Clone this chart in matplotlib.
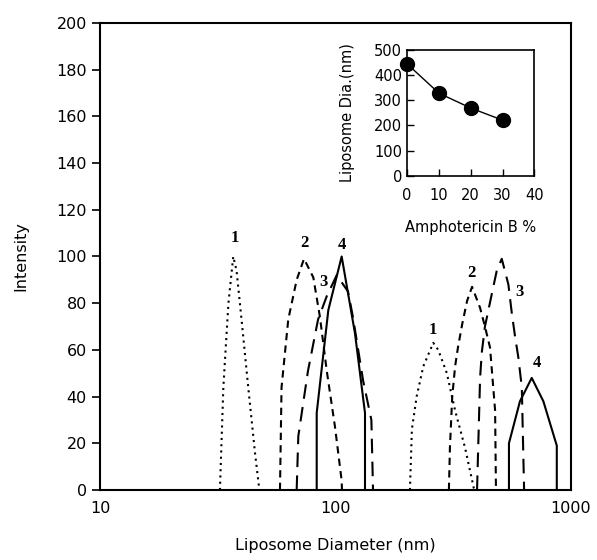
import matplotlib
matplotlib.use("Agg")
import matplotlib.pyplot as plt

plt.rcParams['font.family'] = ['DejaVu Sans']

# curve 1 (dotted) - two peaks
d1a = [32.3, 33.4, 35.1, 36.8, 38.0, 39.9, 42.6, 45.5, 47.5]
i1a = [0, 44, 80, 100, 94, 73, 44, 16, 0]
d1b = [207, 211, 221, 236, 260, 273, 297, 322, 355, 388]
i1b = [0, 26, 40, 53, 63, 60, 50, 34, 18, 0]

# curve 2 (short dash)
d2a = [58.1, 59.0, 63.0, 68.4, 73.5, 80.5, 85.9, 91.8, 99.5, 106.2, 106.5]
i2a = [0, 44, 73, 90, 99, 91, 74, 51, 27, 4, 0]
d2b = [303, 306, 313, 322, 331, 345, 362, 380, 411, 431, 453, 476, 480]
i2b = [0, 18, 40, 53, 61, 71, 81, 87, 78, 70, 61, 34, 0]

# curve 3 (long dash)
d3a = [68.4, 69.5, 76.4, 84.3, 91.8, 101.2, 113, 118.6, 130.9, 142, 144.3]
i3a = [0, 23, 51, 73, 83, 92, 85, 74, 47, 30, 0]
d3b = [399, 411, 418, 431, 461, 484, 508, 542, 560, 578, 597, 618, 632]
i3b = [0, 48, 59, 70, 84, 94, 99, 88, 76, 66, 57, 44, 0]

# curve 4 (solid)
d4a = [83.2, 83.2, 93.2, 106.2, 121, 133.4, 133.4]
i4a = [0, 33, 77, 100, 67, 33, 0]
d4b = [545, 545, 607, 681, 763, 870, 870]
i4b = [0, 20, 38, 48, 38, 19, 0]

# inset data
ampho = [0, 10, 20, 30]
lipo_dia = [444, 328, 269, 221]

fig = plt.figure(figsize=(5.97, 5.6), dpi=100)
ax = fig.add_axes([0.1675, 0.125, 0.789, 0.834])

styles = [(0, (1, 2)), (0, (3.5, 2.5)), (0, (7, 4)), '-']
curves = [(d1a, i1a, d1b, i1b), (d2a, i2a, d2b, i2b),
          (d3a, i3a, d3b, i3b), (d4a, i4a, d4b, i4b)]
for (xa, ya, xb, yb), ls in zip(curves, styles):
    ax.plot(xa, ya, color='black', linestyle=ls, lw=1.5)
    ax.plot(xb, yb, color='black', linestyle=ls, lw=1.5)

ax.set_xscale('log')
ax.set_xlim(10, 1000)
ax.set_ylim(0, 200)
ax.set_yticks(range(0, 201, 20))
ax.set_xticks([10, 100, 1000])
ax.set_xticklabels(['10', '100', '1000'])
ax.tick_params(axis='x', which='both', length=0, labelsize=11.5, pad=8)
ax.tick_params(axis='y', direction='out', length=6, width=1.2, labelsize=11.5)
for s in ax.spines.values():
    s.set_linewidth(1.5)
ax.set_xlabel('Liposome Diameter (nm)', fontsize=11.5, labelpad=16)
ax.set_ylabel('Intensity', fontsize=11.5, labelpad=20)

# curve numbers
lab_kw = dict(fontsize=12, fontweight='bold', family='Liberation Serif', ha='center', va='center')
ax.text(37.4, 107.8, '1', **lab_kw)
ax.text(73.5, 105.7, '2', **lab_kw)
ax.text(88.8, 89.2, '3', **lab_kw)
ax.text(106.2, 104.9, '4', **lab_kw)
ax.text(260, 68.5, '1', **lab_kw)
ax.text(379, 92.8, '2', **lab_kw)
ax.text(607, 84.9, '3', **lab_kw)
ax.text(714, 54.4, '4', **lab_kw)

# inset
axin = fig.add_axes([0.682, 0.686, 0.213, 0.225])
axin.plot(ampho, lipo_dia, color='black', lw=1, marker='o', markersize=10, clip_on=False)
axin.set_xlim(0, 40)
axin.set_ylim(0, 500)
axin.set_xticks([0, 10, 20, 30, 40])
axin.set_yticks([0, 100, 200, 300, 400, 500])
axin.tick_params(direction='in', length=5, width=1, labelsize=10.5)
axin.tick_params(axis='x', pad=9)
for s in axin.spines.values():
    s.set_linewidth(1.2)
axin.set_xlabel('Amphotericin B %', fontsize=10.5, labelpad=12)
axin.set_ylabel('Liposome Dia.(nm)', fontsize=10.5, labelpad=14)

fig.savefig('out.png', dpi=100)
